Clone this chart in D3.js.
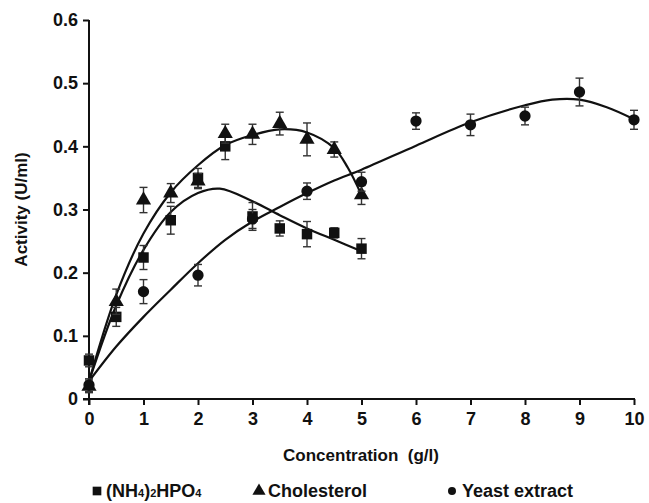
<!DOCTYPE html>
<html>
<head>
<meta charset="utf-8">
<script src="https://cdn.jsdelivr.net/npm/d3@7"></script>
<style>
  body { margin: 0; background: #fff; }
  svg text { font-family: "Liberation Sans", Arial, sans-serif; font-weight: bold; fill: #111; }
  .axis path, .axis line { stroke: #111; stroke-width: 2; }
  .axis text { font-size: 18px; }
  .axis-title { font-size: 17px; }
  .legend text { font-size: 18px; }
</style>
</head>
<body>
<svg id="chart" width="649" height="503"></svg>
<script>
// measured points: [concentration, activity, error]
const ammoniumPoints = [
  [0, 0.061, 0.010], [0.5, 0.130, 0.015], [1, 0.224, 0.019], [1.5, 0.283, 0.022],
  [2, 0.350, 0.015], [2.5, 0.400, 0.021], [3, 0.289, 0.022], [3.5, 0.270, 0.012],
  [4, 0.261, 0.020], [4.5, 0.263, 0.008], [5, 0.238, 0.016]
];
const cholesterolPoints = [
  [0, 0.020, 0.010], [0.5, 0.154, 0.020], [1, 0.315, 0.020], [1.5, 0.326, 0.015],
  [2, 0.345, 0.012], [2.5, 0.420, 0.015], [3, 0.419, 0.016], [3.5, 0.436, 0.018],
  [4, 0.411, 0.026], [4.5, 0.395, 0.012], [5, 0.323, 0.015]
];
const yeastPoints = [
  [0, 0.022, 0.010], [1, 0.170, 0.019], [2, 0.196, 0.017], [3, 0.285, 0.015],
  [4, 0.329, 0.013], [5, 0.344, 0.015], [6, 0.440, 0.013], [7, 0.434, 0.017],
  [8, 0.448, 0.014], [9, 0.486, 0.022], [10, 0.442, 0.015]
];

// fitted trend curves: [concentration, activity]
const ammoniumCurve = [
  [0, 0.028], [0.5, 0.148], [1, 0.236], [1.5, 0.296], [2, 0.326], [2.4, 0.333],
  [3, 0.313], [3.5, 0.291], [4, 0.270], [4.5, 0.252], [5, 0.234]
];
const cholesterolCurve = [
  [0, 0.028], [0.5, 0.165], [1, 0.262], [1.5, 0.327], [2, 0.370], [2.5, 0.402],
  [3, 0.418], [3.5, 0.427], [4, 0.422], [4.5, 0.397], [4.75, 0.366], [5, 0.323]
];
const yeastCurve = [
  [0, 0.028], [0.5, 0.083], [1, 0.130], [1.5, 0.173], [2, 0.215], [2.5, 0.252],
  [3, 0.281], [3.5, 0.304], [4, 0.326], [4.5, 0.346], [5, 0.363], [6, 0.401],
  [7, 0.438], [8, 0.465], [8.5, 0.474], [9, 0.474], [9.5, 0.462], [10, 0.443]
];

const xTicks = [0, 1, 2, 3, 4, 5, 6, 7, 8, 9, 10];
const yTicks = [0, 0.1, 0.2, 0.3, 0.4, 0.5, 0.6];

const series = [
  { name: 'ammonium', points: ammoniumPoints, curve: ammoniumCurve, symbol: d3.symbolSquare, size: 110 },
  { name: 'cholesterol', points: cholesterolPoints, curve: cholesterolCurve, symbol: d3.symbolTriangle, size: 100 },
  { name: 'yeast', points: yeastPoints, curve: yeastCurve, symbol: d3.symbolCircle, size: 100 }
];

class ActivityChart {
  constructor(_config) {
    this.config = {
      parentElement: _config.parentElement,
      margin: { top: 20, right: 15, bottom: 104, left: 89 }
    };
    this.initVis();
  }

  initVis() {
    let vis = this;
    vis.svg = d3.select(vis.config.parentElement);
    vis.width = 649 - vis.config.margin.left - vis.config.margin.right;
    vis.height = 503 - vis.config.margin.top - vis.config.margin.bottom;

    vis.chart = vis.svg.append('g')
      .attr('transform', `translate(${vis.config.margin.left},${vis.config.margin.top})`);

    vis.xScale = d3.scaleLinear().domain([0, 10]).range([0, vis.width]);
    vis.yScale = d3.scaleLinear().domain([0, 0.6]).range([vis.height, 0]);

    vis.xAxis = d3.axisBottom(vis.xScale).tickValues(xTicks).tickSize(6).tickPadding(7).tickFormat(d3.format('d'));
    vis.yAxis = d3.axisLeft(vis.yScale).tickValues(yTicks).tickSize(6).tickPadding(5)
      .tickFormat(d => d === 0 ? '0' : d3.format('.1f')(d));

    vis.xAxisGroup = vis.chart.append('g')
      .attr('class', 'axis x-axis')
      .attr('transform', `translate(0,${vis.height})`);
    vis.yAxisGroup = vis.chart.append('g')
      .attr('class', 'axis y-axis');

    // Axis titles
    vis.svg.append('text')
      .attr('class', 'axis-title')
      .attr('text-anchor', 'middle')
      .attr('transform', `translate(27,${vis.config.margin.top + vis.height / 2}) rotate(-90)`)
      .text('Activity (U/ml)');

    vis.svg.append('text')
      .attr('class', 'axis-title')
      .attr('text-anchor', 'middle')
      .attr('x', 361)
      .attr('y', 461)
      .style('white-space', 'pre')
      .text('Concentration  (g/l)');

    vis.line = d3.line()
      .x(d => vis.xScale(d[0]))
      .y(d => vis.yScale(d[1]))
      .curve(d3.curveCatmullRom.alpha(0.5));
  }

  renderVis() {
    let vis = this;

    vis.xAxisGroup.call(vis.xAxis);
    vis.yAxisGroup.call(vis.yAxis);
    vis.chart.selectAll('.domain').attr('d', null);
    // plain axis lines, no end ticks
    vis.chart.append('line')
      .attr('x1', 0).attr('x2', 0).attr('y1', 0).attr('y2', vis.height + 6)
      .attr('stroke', '#111').attr('stroke-width', 2);
    vis.chart.append('line')
      .attr('x1', -6).attr('x2', vis.width + 1).attr('y1', vis.height).attr('y2', vis.height)
      .attr('stroke', '#111').attr('stroke-width', 2);

    // Trend curves
    vis.chart.selectAll('.trend')
      .data(series)
      .join('path')
        .attr('class', 'trend')
        .attr('fill', 'none')
        .attr('stroke', '#111')
        .attr('stroke-width', 2.2)
        .attr('d', d => vis.line(d.curve));

    // Error bars + markers per series
    const groups = vis.chart.selectAll('.series')
      .data(series)
      .join('g')
        .attr('class', 'series');

    const bars = groups.selectAll('.err')
      .data(d => d.points)
      .join('g')
        .attr('class', 'err')
        .attr('stroke', '#333')
        .attr('stroke-width', 1.4);
    bars.append('line')
      .attr('x1', d => vis.xScale(d[0])).attr('x2', d => vis.xScale(d[0]))
      .attr('y1', d => vis.yScale(d[1] - d[2])).attr('y2', d => vis.yScale(d[1] + d[2]));
    bars.append('line')
      .attr('x1', d => vis.xScale(d[0]) - 4).attr('x2', d => vis.xScale(d[0]) + 4)
      .attr('y1', d => vis.yScale(d[1] + d[2])).attr('y2', d => vis.yScale(d[1] + d[2]));
    bars.append('line')
      .attr('x1', d => vis.xScale(d[0]) - 4).attr('x2', d => vis.xScale(d[0]) + 4)
      .attr('y1', d => vis.yScale(d[1] - d[2])).attr('y2', d => vis.yScale(d[1] - d[2]));

    groups.each(function(s) {
      d3.select(this).selectAll('.mark')
        .data(s.points)
        .join('path')
          .attr('class', 'mark')
          .attr('fill', '#111')
          .attr('d', d3.symbol().type(s.symbol).size(s.size))
          .attr('transform', d => `translate(${vis.xScale(d[0])},${vis.yScale(d[1])})`);
    });

    // Legend
    const legend = vis.svg.append('g').attr('class', 'legend');
    const legendItems = [
      { x: 97, symbol: d3.symbolSquare, size: 75 },
      { x: 259, symbol: d3.symbolTriangle, size: 75 },
      { x: 452, symbol: d3.symbolCircle, size: 50 }
    ];
    legend.selectAll('path')
      .data(legendItems)
      .join('path')
        .attr('fill', '#111')
        .attr('d', d => d3.symbol().type(d.symbol).size(d.size)())
        .attr('transform', d => `translate(${d.x},491)`);

    const t1 = legend.append('text').attr('x', 106).attr('y', 497);
    t1.append('tspan').text('(NH');
    t1.append('tspan').text('4').style('font-size', '11px');
    t1.append('tspan').text(')');
    t1.append('tspan').text('2').style('font-size', '11px');
    t1.append('tspan').text('HPO');
    t1.append('tspan').text('4').style('font-size', '11px');

    legend.append('text').attr('x', 268).attr('y', 497).text('Cholesterol');
    legend.append('text').attr('x', 462).attr('y', 497).text('Yeast extract');
  }
}

const chart = new ActivityChart({ parentElement: '#chart' });
chart.renderVis();
</script>
</body>
</html>
